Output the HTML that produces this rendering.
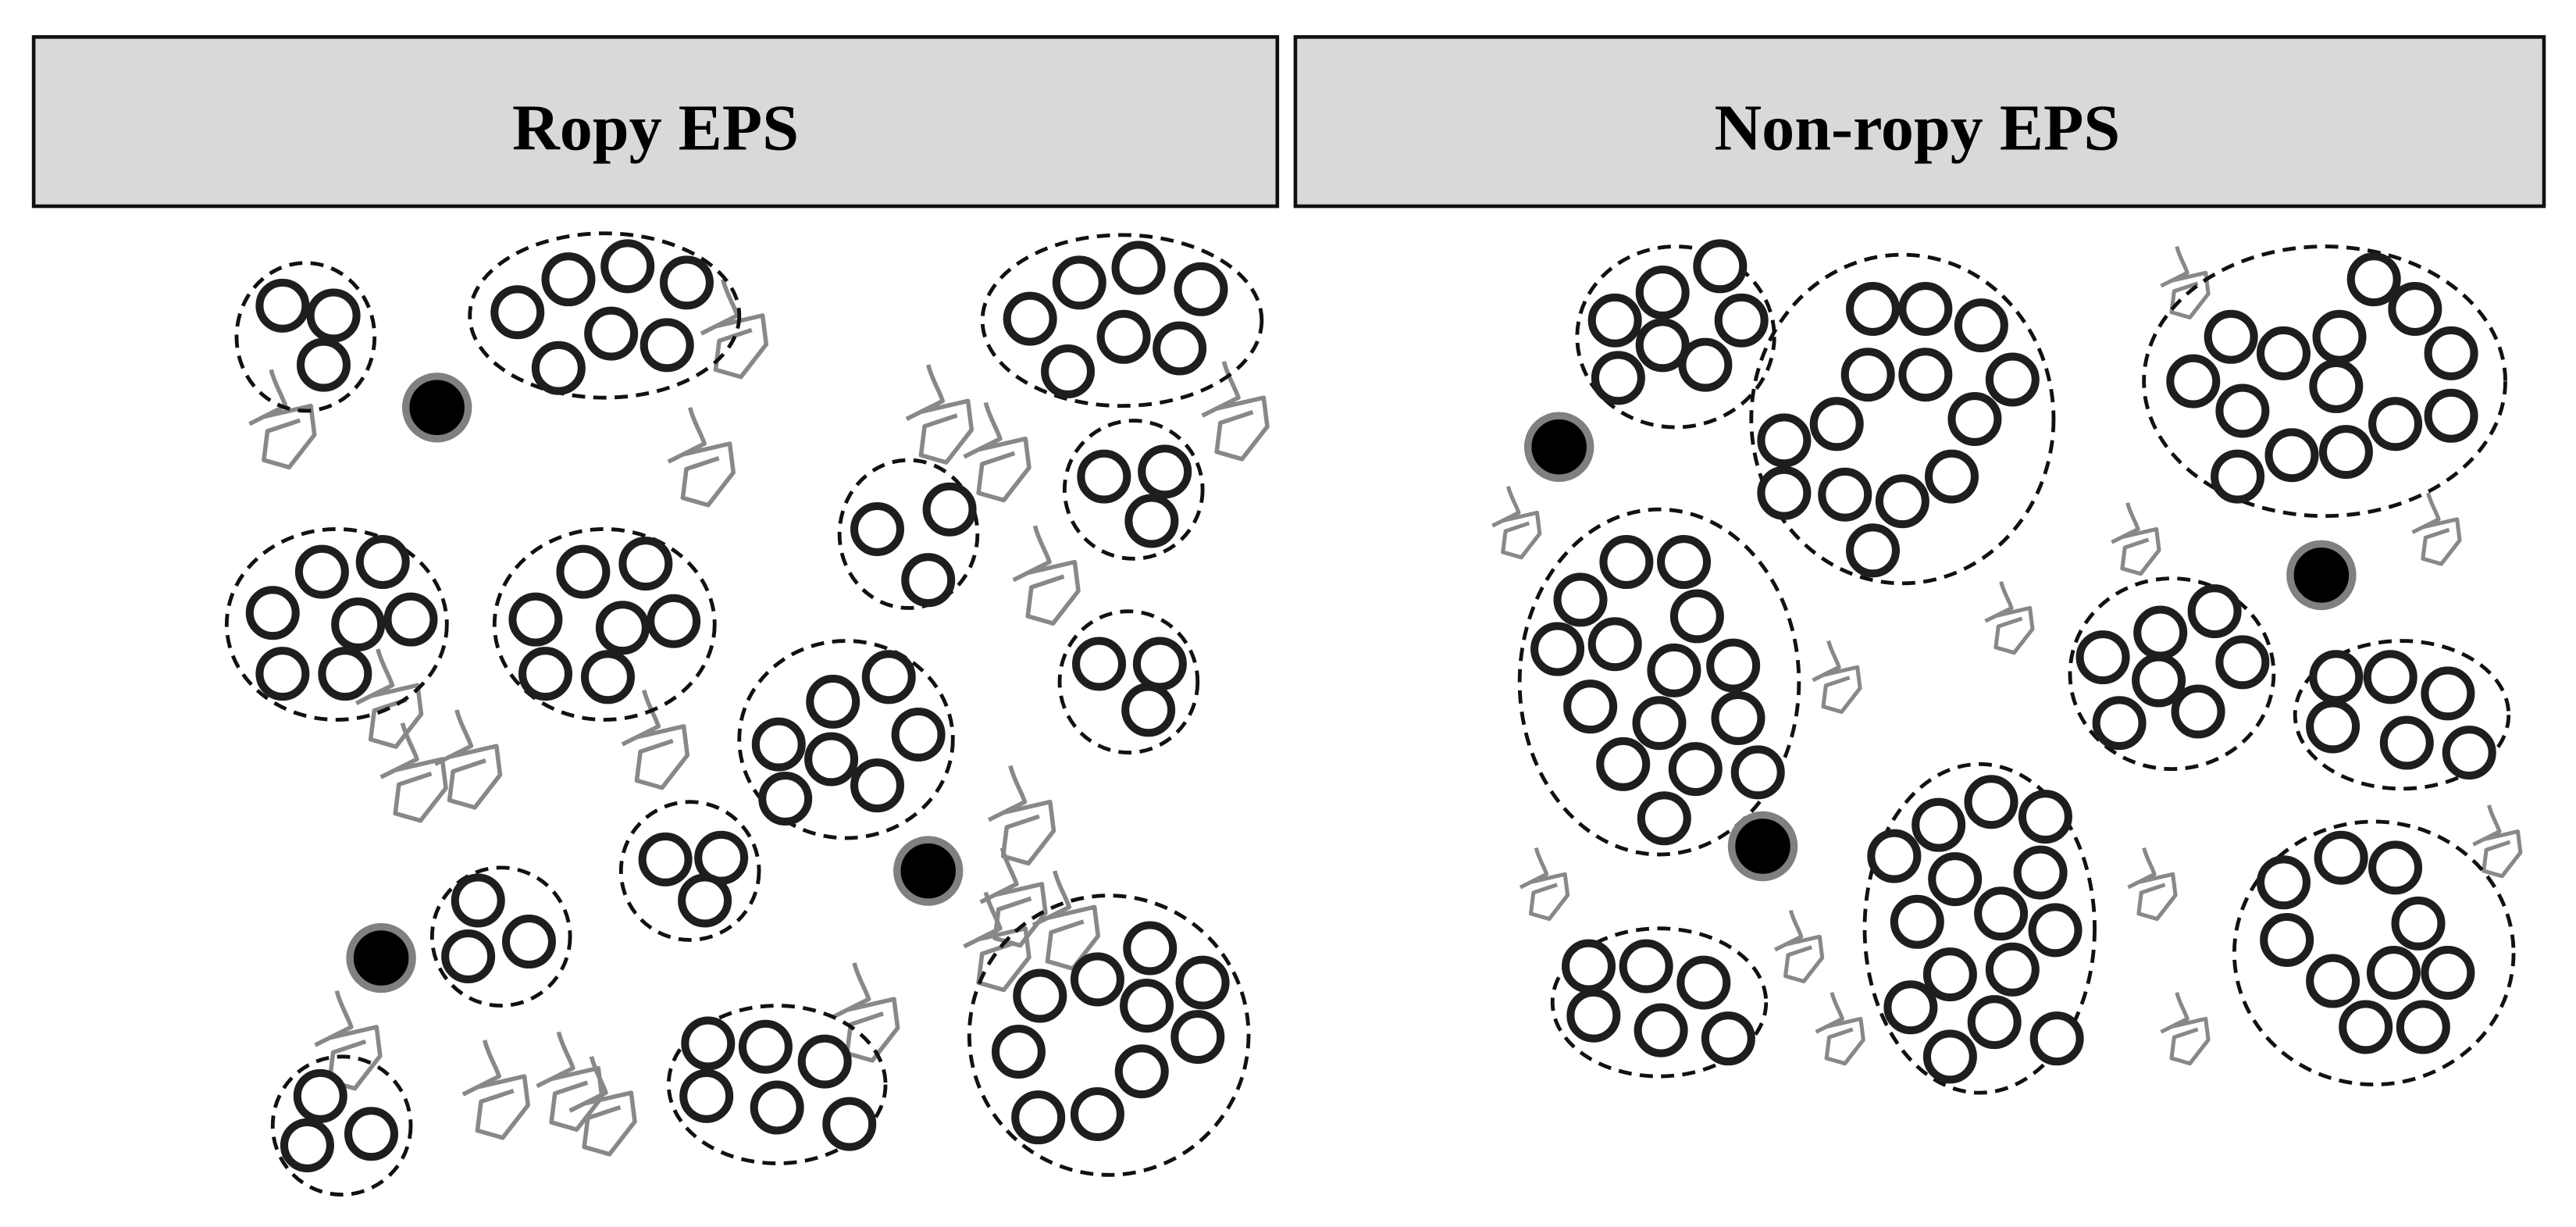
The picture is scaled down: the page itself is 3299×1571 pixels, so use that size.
<!DOCTYPE html>
<html><head><meta charset="utf-8"><style>
html,body{margin:0;padding:0;background:#fff;}
svg{display:block;}
</style></head><body>
<svg id="s" width="3299" height="1571" viewBox="0 0 1568 746.7" preserveAspectRatio="none" xmlns="http://www.w3.org/2000/svg">
<rect x="0" y="0" width="1568" height="747" fill="#fff"/>
<rect x="20.5" y="22.5" width="757" height="103" fill="#d9d9d9" stroke="#111" stroke-width="2.2"/>
<rect x="788.5" y="22.5" width="760" height="103" fill="#d9d9d9" stroke="#111" stroke-width="2.2"/>
<text x="399" y="91" text-anchor="middle" font-family="Liberation Serif, serif" font-weight="bold" font-size="40" fill="#000">Ropy EPS</text>
<text x="1167" y="91" text-anchor="middle" font-family="Liberation Serif, serif" font-weight="bold" font-size="40" fill="#000">Non-ropy EPS</text>
<g id="g"></g>
</svg>
<script>
var NS="http://www.w3.org/2000/svg",g=document.getElementById('g');
function el(t,a){var e=document.createElementNS(NS,t);for(var k in a)e.setAttribute(k,a[k]);g.appendChild(e);return e;}
var clusters=[
[[186,205,42,45],[[172,186],[203,192],[197,222]]],
[[368,192,82,50],[[315,190],[346,170],[382,162],[418,172],[340,224],[372,203],[406,210]]],
[[683,195,85,52],[[627,194],[657,172],[693,163],[731,176],[650,226],[684,205],[718,212]]],
[[553,325,42,45],[[534,322],[578,310],[565,353]]],
[[690,298,42,42],[[672,290],[709,287],[701,317]]],
[[205,380,67,58],[[166,373],[196,348],[233,342],[250,377],[218,380],[172,410],[210,410]]],
[[368,380,67,58],[[326,377],[355,348],[393,343],[410,378],[379,382],[332,410],[370,412]]],
[[687,415,42,43],[[669,404],[706,404],[699,432]]],
[[515,450,65,60],[[474,453],[507,427],[541,412],[559,447],[506,462],[478,486],[534,478]]],
[[420,530,42,42],[[405,523],[439,522],[429,548]]],
[[305,570,42,42],[[291,548],[285,582],[322,573]]],
[[208,685,42,42],[[195,667],[187,697],[226,690]]],
[[473,660,66,48],[[431,635],[466,637],[502,646],[430,667],[473,674],[517,684]]],
[[675,630,85,85],[[633,606],[668,596],[700,577],[732,598],[729,631],[695,652],[668,678],[632,680],[620,640],[698,612]]],
[[1020,205,60,55],[[983,195],[1012,178],[1047,162],[1060,195],[1012,210],[985,230],[1038,222]]],
[[1158,255,92,100],[[1140,188],[1172,188],[1206,198],[1137,228],[1172,228],[1225,231],[1086,268],[1118,258],[1202,255],[1086,300],[1123,301],[1188,290],[1158,305],[1140,335]]],
[[1415,232,110,82],[[1445,170],[1470,188],[1492,215],[1358,205],[1390,215],[1424,205],[1335,232],[1365,250],[1422,235],[1458,258],[1492,253],[1362,290],[1395,277],[1428,275]]],
[[1010,415,85,105],[[990,342],[1025,342],[962,365],[1033,375],[948,395],[983,392],[1019,408],[1055,405],[968,430],[1010,440],[1058,437],[988,465],[1032,468],[1070,470],[1013,498]]],
[[1322,410,62,58],[[1315,385],[1348,372],[1365,403],[1280,400],[1314,414],[1290,440],[1338,433]]],
[[1462,435,65,45],[[1422,412],[1455,412],[1490,422],[1420,442],[1465,452],[1503,458]]],
[[1205,565,70,100],[[1180,502],[1212,488],[1245,497],[1153,521],[1190,535],[1242,531],[1167,561],[1218,556],[1251,566],[1187,593],[1225,590],[1163,613],[1214,622],[1252,632],[1187,643]]],
[[1445,580,85,80],[[1390,537],[1425,522],[1458,528],[1472,562],[1392,572],[1420,597],[1457,592],[1490,592],[1440,625],[1475,625]]],
[[1010,610,65,45],[[967,588],[1002,588],[1037,598],[970,618],[1011,627],[1052,632]]]
];
var sq="M0,0 C2,8 6,14 8,20 L-12,30 M-4,26 L22,20 L24,36 L10,54 L-4,50 L-2,34 L16,28";
var sqL=[[165,225],[440,170],[420,248],[565,222],[600,245],[745,220],[630,320],[230,395],[245,440],[278,432],[392,420],[615,466],[610,516],[642,530],[205,603],[295,633],[340,628],[520,586],[600,543],[360,643]];
var sqR=[[1325,150],[918,296],[1295,306],[1478,300],[1218,354],[1113,390],[935,516],[1305,516],[1515,490],[1090,554],[1115,604],[1325,604]];
sqL.forEach(function(p){el('path',{d:sq,transform:'translate('+p[0]+','+p[1]+') scale(1.1)',fill:'none',stroke:'#888',"stroke-width":2.4,"stroke-linejoin":"round"});});
sqR.forEach(function(p){el('path',{d:sq,transform:'translate('+p[0]+','+p[1]+') scale(0.8)',fill:'none',stroke:'#888',"stroke-width":3,"stroke-linejoin":"round"});});
clusters.forEach(function(c){var e=c[0];
el('ellipse',{cx:e[0],cy:e[1],rx:e[2],ry:e[3],fill:'none',stroke:'#111',"stroke-width":2.3,"stroke-dasharray":"8 5"});
c[1].forEach(function(p){el('circle',{cx:p[0],cy:p[1],r:14,fill:'#fff',stroke:'#1e1e1e',"stroke-width":4.8});});});
[[266,248],[565,530],[232,583],[949,272],[1073,515],[1413,350]].forEach(function(p){
el('circle',{cx:p[0],cy:p[1],r:19,fill:'#000',stroke:'#808080',"stroke-width":4.5});});
</script>
</body></html>
